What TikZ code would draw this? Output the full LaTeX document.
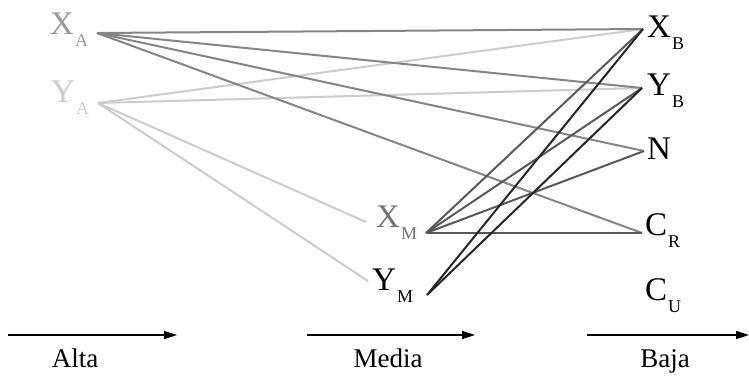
\documentclass[tikz,border=0pt]{standalone}
\usepackage{fontspec}
\setmainfont{Liberation Serif}
\usetikzlibrary{arrows.meta}
\newcommand{\subl}[1]{\kern1pt\raisebox{-12pt}{\fontsize{18}{18}\selectfont #1}}
\tikzset{
  lbl/.style={inner sep=0pt, anchor=base west, font=\fontsize{33}{33}\selectfont},
  edge/.style={line width=2pt},
  axis/.style={line width=1.3pt, -{Triangle[length=13pt,width=8pt]}},
  levellabel/.style={inner sep=0pt, anchor=base, font=\fontsize{27}{27}\selectfont}
}
\begin{document}
\begin{tikzpicture}[x=1pt,y=-1pt]
\useasboundingbox (0,0) rectangle (749,376);
% connector end points
\coordinate (pXA) at (97,33);
\coordinate (pYA) at (98,103);
\coordinate (pXM) at (426,233);
\coordinate (pYM) at (427,295);
\coordinate (pXB) at (643,29);
\coordinate (pYB) at (642,88);
\coordinate (pN) at (644,151);
\coordinate (pCR) at (642,233);
\coordinate (eXM) at (366,222);
\coordinate (eYM) at (368,281);
% labels
\node[lbl, text=black!40] (XA) at (50,34) {X\subl{A}};
\node[lbl, text=black!20] (YA) at (51,102) {Y\subl{A}};
\node[lbl, text=black!55] (XM) at (376,227) {X\subl{M}};
\node[lbl] (YM) at (372,290) {Y\subl{M}};
\node[lbl] (XB) at (647,37) {X\subl{B}};
\node[lbl] (YB) at (647,95) {Y\subl{B}};
\node[lbl] (N) at (647,159) {N};
\node[lbl] (CR) at (645,235) {C\subl{R}};
\node[lbl] (CU) at (645,300) {C\subl{U}};
% edges
\begin{scope}[edge, draw=black!20]
\draw (pYA) -- (pXB);
\draw (pYA) -- (pYB);
\draw (pYA) -- (eXM);
\draw (pYA) -- (eYM);
\end{scope}
\begin{scope}[edge, draw=black!48]
\draw (pXA) -- (pXB);
\draw (pXA) -- (pYB);
\draw (pXA) -- (pN);
\draw (pXA) -- (pCR);
\end{scope}
\begin{scope}[edge, draw=black!65]
\draw (pXM) -- (pXB);
\draw (pXM) -- (pYB);
\draw (pXM) -- (pN);
\draw (pXM) -- (pCR);
\end{scope}
\begin{scope}[edge, draw=black!85]
\draw (pYM) -- (pXB);
\draw (pYM) -- (pYB);
\end{scope}
% axis arrows
\coordinate (a1s) at (8,335); \coordinate (a1e) at (177,335);
\coordinate (a2s) at (307,335); \coordinate (a2e) at (475,335);
\coordinate (a3s) at (587,335); \coordinate (a3e) at (749,335);
\draw[axis] (a1s) -- (a1e);
\draw[axis] (a2s) -- (a2e);
\draw[axis] (a3s) -- (a3e);
\node[levellabel] (alta) at (75,367) {Alta};
\node[levellabel] (media) at (388,367) {Media};
\node[levellabel] (baja) at (665,367) {Baja};
\end{tikzpicture}
\end{document}
